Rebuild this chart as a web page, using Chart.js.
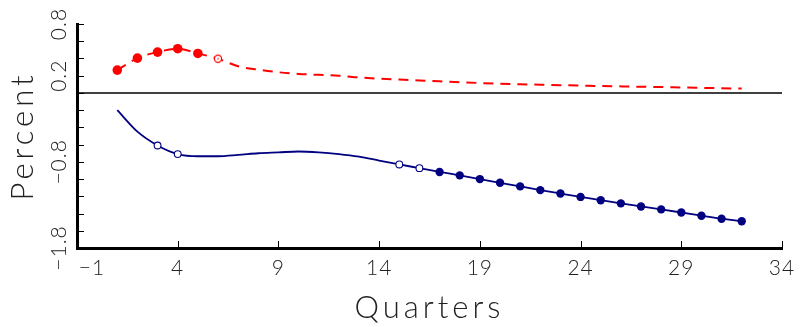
<!DOCTYPE html>
<html>
<head>
<meta charset="utf-8">
<script src="https://cdn.jsdelivr.net/npm/chart.js@4/dist/chart.umd.min.js"></script>
<style>
  html, body { margin: 0; padding: 0; background: #fff; }
  #wrap { width: 800px; height: 327px; }
</style>
</head>
<body>
<div id="wrap"><canvas id="c" width="800" height="327"></canvas></div>
<script>
// Horizon in quarters
const quarters = [1, 2, 3, 4, 5, 6, 7, 8, 9, 10, 11, 12, 13, 14, 15, 16,
                  17, 18, 19, 20, 21, 22, 23, 24, 25, 26, 27, 28, 29, 30, 31, 32];

// Upper response (percent)
const redSeries = [0.265, 0.404, 0.474, 0.513, 0.458, 0.397, 0.31, 0.27, 0.24, 0.22,
                   0.21, 0.20, 0.18, 0.165, 0.155, 0.145, 0.135, 0.125, 0.115, 0.107,
                   0.10, 0.095, 0.09, 0.085, 0.08, 0.076, 0.072, 0.068, 0.063, 0.059,
                   0.055, 0.05];

// Lower response (percent)
const blueSeries = [-0.20, -0.45, -0.61, -0.71, -0.735, -0.735, -0.72, -0.70, -0.69, -0.68,
                    -0.69, -0.71, -0.74, -0.785, -0.83, -0.873, -0.917, -0.957, -1.00, -1.043,
                    -1.085, -1.128, -1.168, -1.207, -1.245, -1.282, -1.318, -1.352, -1.388, -1.425,
                    -1.46, -1.49];

// Marker groups (by quarter)
const redFilled = [1, 2, 3, 4, 5];
const redOpen = [6];
const blueOpen = [3, 4, 15, 16];
const blueFilled = [17, 18, 19, 20, 21, 22, 23, 24, 25, 26, 27, 28, 29, 30, 31, 32];

// Axis ticks
const xTickValues = [-1, 4, 9, 14, 19, 24, 29, 34];
const yTickMarks = [0.8, 0.6, 0.4, 0.2, 0, -0.2, -0.4, -0.6, -0.8, -1.0, -1.2, -1.4, -1.6, -1.8];
const yTickLabels = [0.8, 0.2, -0.8, -1.8];

const RED = '#ff0000';
const NAVY = '#000080';
const TEXT = '#222222';
const FONT_FAMILY = 'Lato, "DejaVu Sans", sans-serif';

function fmt(v) {
  const s = (Math.round(v * 10) / 10).toString();
  return s.replace('-', '\u2212');
}

// open circle with a centre dot
function makeDottedCircle(color) {
  const cv = document.createElement('canvas');
  cv.width = 12; cv.height = 12;
  const g = cv.getContext('2d');
  g.beginPath();
  g.arc(6, 6, 3.6, 0, Math.PI * 2);
  g.fillStyle = '#fff';
  g.fill();
  g.lineWidth = 1.2;
  g.strokeStyle = color;
  g.stroke();
  g.beginPath();
  g.arc(6, 6, 0.8, 0, Math.PI * 2);
  g.fillStyle = color;
  g.fill();
  return cv;
}
const redOpenStyle = makeDottedCircle(RED);

const toPoints = (ys) => quarters.map((q, i) => ({ x: q, y: ys[i] }));

// Zero line, inward tick marks, tick labels and wide-spaced axis titles
const axisDecor = {
  id: 'axisDecor',
  beforeDraw(chart) {
    chart.ctx.letterSpacing = '4px';
  },
  beforeDatasetsDraw(chart) {
    const { ctx, chartArea, scales: { y } } = chart;
    ctx.letterSpacing = '0px';
    ctx.save();
    ctx.strokeStyle = '#000';
    ctx.lineWidth = 1.5;
    const y0 = y.getPixelForValue(0);
    ctx.beginPath();
    ctx.moveTo(chartArea.left, y0);
    ctx.lineTo(chartArea.right, y0);
    ctx.stroke();
    ctx.restore();
  },
  afterDraw(chart) {
    const { ctx, chartArea, scales: { x, y } } = chart;
    ctx.save();
    ctx.letterSpacing = '1px';
    ctx.strokeStyle = '#000';
    ctx.lineWidth = 1;
    // x tick marks
    xTickValues.forEach(v => {
      const px = Math.round(x.getPixelForValue(v)) + 0.5;
      ctx.beginPath();
      ctx.moveTo(px, chartArea.bottom);
      ctx.lineTo(px, chartArea.bottom - 7);
      ctx.stroke();
    });
    // y tick marks
    yTickMarks.forEach(v => {
      const py = Math.round(y.getPixelForValue(v)) + 0.5;
      ctx.beginPath();
      ctx.moveTo(chartArea.left, py);
      ctx.lineTo(chartArea.left + 7, py);
      ctx.stroke();
    });
    // x tick labels
    ctx.fillStyle = TEXT;
    ctx.font = '300 21px ' + FONT_FAMILY;
    ctx.textAlign = 'center';
    ctx.textBaseline = 'middle';
    xTickValues.forEach((v, i) => {
      let px = x.getPixelForValue(v);
      if (i === 0) px += 15;
      ctx.fillText(fmt(v), px, chartArea.bottom + 20);
    });
    // y tick labels (rotated)
    yTickLabels.forEach(v => {
      const py = y.getPixelForValue(v);
      ctx.save();
      ctx.translate(chartArea.left - 18, py);
      ctx.rotate(-Math.PI / 2);
      ctx.fillText(fmt(v), 0, 0);
      ctx.restore();
    });
    ctx.restore();
    ctx.letterSpacing = '0px';
  }
};

new Chart(document.getElementById('c'), {
  type: 'line',
  data: {
    datasets: [
      {
        data: toPoints(redSeries),
        borderColor: RED,
        borderWidth: 2,
        borderDash: [10, 7],
        cubicInterpolationMode: 'monotone',
        pointStyle: ctx => redOpen.includes(quarters[ctx.dataIndex]) ? redOpenStyle : 'circle',
        pointRadius: ctx => {
          const q = quarters[ctx.dataIndex];
          if (redFilled.includes(q)) return 4.8;
          if (redOpen.includes(q)) return 4;
          return 0;
        },
        pointBackgroundColor: RED,
        pointBorderColor: RED,
        pointBorderWidth: 0
      },
      {
        data: toPoints(blueSeries),
        borderColor: NAVY,
        borderWidth: 1.8,
        cubicInterpolationMode: 'monotone',
        pointStyle: 'circle',
        pointRadius: ctx => {
          const q = quarters[ctx.dataIndex];
          if (blueFilled.includes(q)) return 4.2;
          if (blueOpen.includes(q)) return 3.4;
          return 0;
        },
        pointBackgroundColor: ctx => blueFilled.includes(quarters[ctx.dataIndex]) ? NAVY : '#ffffff',
        pointBorderColor: NAVY,
        pointBorderWidth: ctx => blueFilled.includes(quarters[ctx.dataIndex]) ? 0 : 1.1
      }
    ]
  },
  options: {
    responsive: false,
    animation: false,
    events: [],
    layout: { padding: { top: 24, right: 18, left: 0, bottom: 0 } },
    plugins: { legend: { display: false }, tooltip: { enabled: false } },
    scales: {
      x: {
        type: 'linear',
        min: -1,
        max: 34,
        afterBuildTicks: s => { s.ticks = xTickValues.map(v => ({ value: v })); },
        afterFit: s => { s.height = 79; },
        grid: { display: false, drawTicks: false },
        border: { display: true, color: '#000', width: 3 },
        ticks: { display: false },
        title: {
          display: true,
          text: 'Quarters',
          color: TEXT,
          font: { family: FONT_FAMILY, size: 31, weight: '300' },
          padding: { top: 0, bottom: 0 }
        }
      },
      y: {
        type: 'linear',
        min: -1.8,
        max: 0.8,
        afterBuildTicks: s => { s.ticks = yTickMarks.map(v => ({ value: v })); },
        afterFit: s => { s.width = 77; },
        grid: { display: false, drawTicks: false },
        border: { display: true, color: '#000', width: 3 },
        ticks: { display: false },
        title: {
          display: true,
          text: 'Percent',
          color: TEXT,
          font: { family: FONT_FAMILY, size: 31, weight: '300' },
          padding: { top: 4, bottom: 0 }
        }
      }
    }
  },
  plugins: [axisDecor]
});
</script>
</body>
</html>
